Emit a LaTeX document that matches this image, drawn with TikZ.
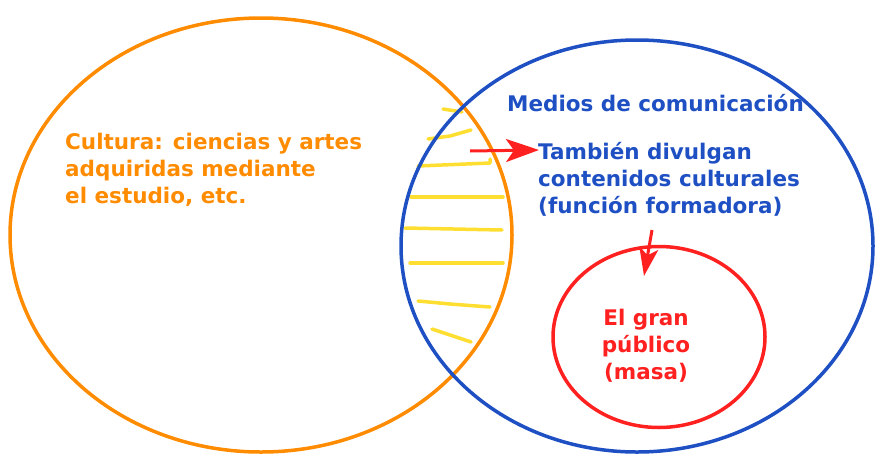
\documentclass[tikz,border=0pt]{standalone}
\usepackage{fontspec}
\setmainfont{DejaVu Sans}
\usetikzlibrary{shapes.geometric,arrows.meta}

\definecolor{cultorange}{RGB}{255,140,0}
\definecolor{medblue}{RGB}{30,80,196}
\definecolor{masared}{RGB}{255,32,32}
\definecolor{hatchyellow}{RGB}{255,222,50}

\tikzset{
  ring/.style={ellipse,draw,line width=3.5pt,inner sep=0pt},
  label/.style={anchor=base west,align=left,inner sep=0pt,
    font=\bfseries\fontsize{21.5}{26.8}\selectfont},
  hatch/.style={hatchyellow,line width=3.5pt,line cap=round,line join=round},
  pointer/.style={masared,line width=3pt,-{Stealth[inset=6pt]}}
}

\begin{document}
\begin{tikzpicture}[x=1pt,y=-1pt]
\useasboundingbox[fill=white] (0,0) rectangle (877,455);
% hatching in the overlap
\draw[hatch] (443,109) -- (462,112);
\draw[hatch] (428,139) -- (450,136) -- (471,130);
\draw[hatch] (418,166) -- (490,163) -- (490,159);
\draw[hatch] (411,197) -- (503,197);
\draw[hatch] (405,228) -- (502,230);
\draw[hatch] (410,263) -- (503,263);
\draw[hatch] (418,301) -- (450,304) -- (490,307);
\draw[hatch] (432,329) -- (471,342);
% the three sets
\node[ring,draw=cultorange,minimum width=502pt,minimum height=434pt] (cultura) at (261,235) {};
\node[ring,draw=medblue,minimum width=472pt,minimum height=412pt] (medios) at (637,246) {};
\node[ring,draw=masared,minimum width=212pt,minimum height=181pt] (publico) at (659,337) {};
% texts (anchored at the last baseline)
\node[label,text=cultorange] (cultxt) at (65,203) {Cultura: ciencias y artes\\adquiridas mediante\\el estudio, etc.};
\node[label,text=medblue] (medtxt) at (507,111) {Medios de comunicación};
\node[label,text=medblue] (tambien) at (538,213) {También divulgan\\contenidos culturales\\(función formadora)};
\node[label,align=center,anchor=base,text=masared] (masa) at (646,379) {El gran\\público\\(masa)};
% arrows
\coordinate (a1) at (470,151);
\coordinate (t1) at (539,150);
\coordinate (a2) at (652,230);
\coordinate (t2) at (644,276);
\draw[pointer,-{Stealth[length=33pt,width=23pt,inset=8pt]}] (a1) -- (t1);
\draw[pointer,-{Stealth[length=28pt,width=19pt,inset=7pt]}] (a2) -- (t2);
\end{tikzpicture}
\end{document}
